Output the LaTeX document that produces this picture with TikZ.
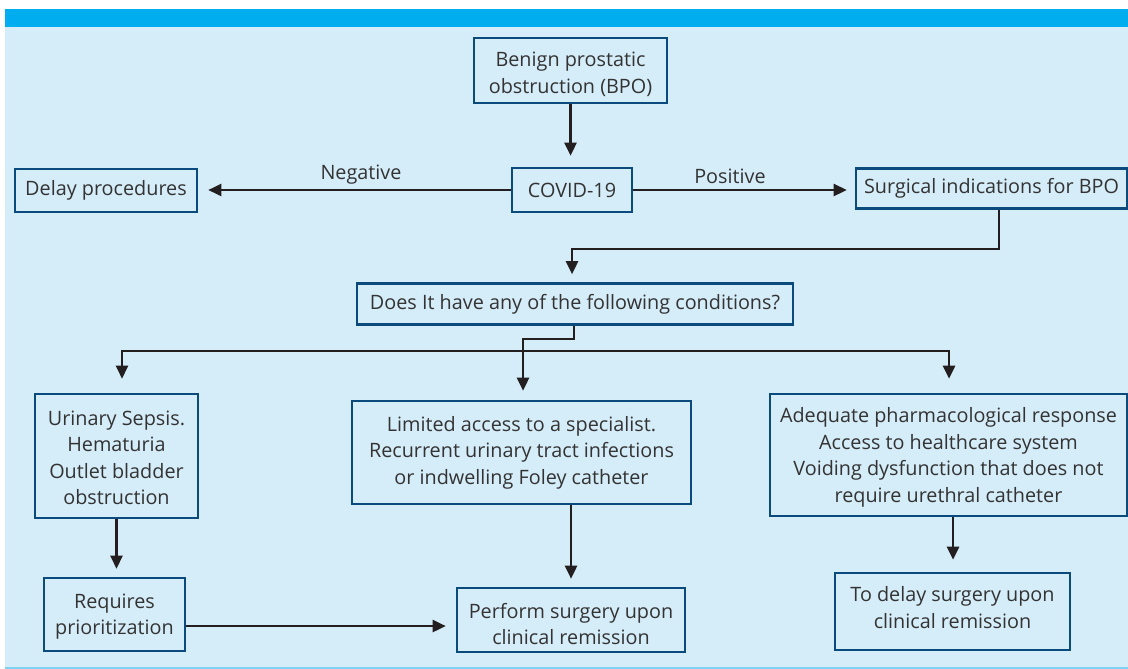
\documentclass[tikz,border=0pt]{standalone}
\usepackage{fontspec}
\setmainfont{Open Sans}
\usetikzlibrary{arrows.meta,calc}
\definecolor{barblue}{HTML}{00AEEF}
\definecolor{panel}{HTML}{D5ECF9}
\definecolor{edgeline}{HTML}{7FD3F5}
\definecolor{boxblue}{HTML}{0B4A7C}
\definecolor{ink}{HTML}{231F20}
\definecolor{txt}{HTML}{333333}
\tikzset{
  fbox/.style={draw=boxblue, line width=2.6pt, fill=panel, inner sep=0pt},
  btxt/.style={inner sep=0pt, align=center, text=txt, font=\fontsize{19.8}{26.5}\selectfont},
  conn/.style={draw=ink, line width=2.6pt, -{Triangle[length=13pt,width=12pt]}},
  lbl/.style={text=txt, font=\fontsize{19.8}{23}\selectfont, inner sep=0pt}
}
\begin{document}
\begin{tikzpicture}[x=1pt,y=-1pt]
\useasboundingbox (0,0) rectangle (1128,669);
\fill[white] (0,0) rectangle (1128,669);
\fill[panel] (5,27) rectangle (1128,667);
\fill[barblue] (5,9) rectangle (1128,27);
\fill[edgeline] (5,666.5) rectangle (1128,669);

\node[fbox, minimum width=193pt, minimum height=65pt,
  label={[btxt, yshift=-4pt]center:{Benign prostatic\\obstruction (BPO)}}] (bpo) at (570.5,70.5) {};
\node[fbox, minimum width=120pt, minimum height=44pt,
  label={[btxt]center:{COVID-19}}] (cov) at (572,190) {};
\node[fbox, minimum width=182pt, minimum height=43pt,
  label={[btxt]center:{Delay procedures}}] (del) at (106,190.5) {};
\node[fbox, minimum width=271pt, minimum height=40pt,
  label={[btxt]center:{Surgical indications for BPO}}] (sur) at (991.5,188.5) {};
\node[fbox, minimum width=436pt, minimum height=41pt,
  label={[btxt]center:{Does It have any of the following conditions?}}] (does) at (575,304) {};
\node[fbox, minimum width=163pt, minimum height=124pt,
  label={[btxt, yshift=-2pt]center:{Urinary Sepsis.\\Hematuria\\Outlet bladder\\obstruction}}] (lft) at (116.5,456) {};
\node[fbox, minimum width=339pt, minimum height=103pt,
  label={[btxt]center:{Limited access to a specialist.\\Recurrent urinary tract infections\\or indwelling Foley catheter}}] (mid) at (521.5,452.5) {};
\node[fbox, minimum width=357pt, minimum height=122pt,
  label={[btxt, yshift=-2.5pt]center:{Adequate pharmacological response\\Access to healthcare system\\Voiding dysfunction that does not\\require urethral catheter}}] (rgt) at (948.5,455) {};
\node[fbox, minimum width=141pt, minimum height=73pt,
  label={[btxt, yshift=-2pt]center:{Requires\\prioritization}}] (req) at (114.5,614.5) {};
\node[fbox, minimum width=228pt, minimum height=64pt,
  label={[btxt, yshift=-4pt]center:{Perform surgery upon\\clinical remission}}] (perf) at (571,620) {};
\node[fbox, minimum width=235pt, minimum height=77pt,
  label={[btxt, yshift=4pt]center:{To delay surgery upon\\clinical remission}}] (tdel) at (952.5,611.5) {};

\node[lbl] (neg) at (361,175) {Negative};
\node[lbl] (pos) at (730,176) {Positive};

\coordinate (split) at (523,351);
\coordinate (sr) at (999,249);
\coordinate (dk) at (574,339);

\draw[conn, shorten >=11pt] (bpo.south) -- (bpo.south |- cov.north);
\draw[conn, shorten >=10pt] (cov.west) -- (cov.west -| del.east);
\draw[conn, shorten >=8pt] (cov.east) -- (cov.east -| sur.west);
\draw[conn, shorten >=8pt] (sur.south -| sr) -- (sr) -| ([xshift=-3pt]does.north);
\draw[conn, shorten >=9pt] (does.south -| dk) -- (dk) -| (split) -- (split |- mid.north);
\draw[conn, shorten >=14pt] (split) -| ([xshift=5.5pt]lft.north);
\draw[conn, shorten >=14pt] (split) -| ([xshift=0.5pt]rgt.north);
\draw[conn, shorten >=8pt] (lft.south) -- (lft.south |- req.north);
\draw[conn, shorten >=8pt] (mid.south -| perf.north) -- (perf.north);
\draw[conn, shorten >=12pt] ([xshift=4.5pt]rgt.south) -- ([xshift=4.5pt]rgt.south |- tdel.north);
\draw[conn, shorten >=10pt] ([yshift=-11.5pt]req.east) -- ([yshift=-11.5pt]req.east -| perf.west);
\end{tikzpicture}
\end{document}
